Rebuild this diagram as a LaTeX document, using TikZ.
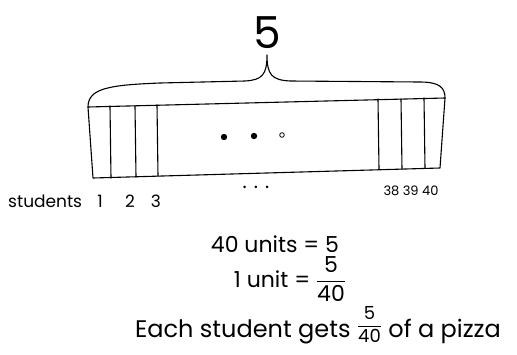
\documentclass[tikz,border=0pt]{standalone}
\usepackage{amsmath}
\usepackage{fontspec}
\setmainfont{Poppins}
\usetikzlibrary{positioning,calc}

\tikzset{
	hand/.style={line width=1.1pt,line cap=round,line join=round},
	lbl/.style={inner sep=0pt,font=\fontsize{17}{17}\selectfont},
	eqn/.style={inner sep=0pt,font=\fontsize{22}{22}\selectfont}
}
\newcommand{\sfr}[2]{$\dfrac{\textrm{#1}}{\textrm{#2}}$}
\newcommand{\smallfr}[2]{\raisebox{6pt}{\fontsize{18}{18}\selectfont\sfr{#1}{#2}}}

\begin{document}
\begin{tikzpicture}[x=1pt,y=-1pt]
				\useasboundingbox (0,0) rectangle (517,354);

				% corners of the bar
				\coordinate (tl) at (88,107);
				\coordinate (tr) at (445,98);
				\coordinate (br) at (440,168);
				\coordinate (bl) at (93,178);
				\draw[hand] (tl)--(tr)--(br)--(bl)--cycle;

				% unit strips
				\foreach \x/\yt/\yb in {110/106/178,135/106/177,157/105/176,378/99/169,401/99/169,424/98/168}
				{
					\draw[hand] (\x,\yt)--(\x+1,\yb);
				}

				% brace over the bar
				\coordinate (tip) at (267,55);
				\draw[hand] (tl) .. controls (88,88) and (110,85) .. (160,83)
					-- (245,81) .. controls (262,80) and (267,75) .. (tip)
					.. controls (267,75) and (272,80) .. (290,81)
					-- (420,82) .. controls (440,82) and (445,88) .. (tr);
				\node[inner sep=0pt,font=\fontsize{44}{44}\selectfont,above=6pt of tip] (total) {5};

				% dots in the bar
				\fill (224,137) circle [radius=3.2pt];
				\fill (254,136) circle [radius=3.2pt];
				\draw[thick] (282,135) circle [radius=2.3pt];

				% labels under the bar
				\node[lbl,anchor=base west] (stu) at (8,207) {students};
				\foreach \x/\xtext in {100/1,130/2,156/3}
				{
					\node[lbl,anchor=base] (s\xtext) at (\x,207) {\xtext};
				}
				\node[inner sep=0pt,font=\fontsize{20}{20}\selectfont,anchor=base] (gap) at (256,188) {. . .};
				\node[inner sep=0pt,font=\fontsize{13}{13}\selectfont,anchor=base] (last) at (411,195) {38 39 40};

				% working
				\node[eqn,anchor=base] (eq1) at (275,252) {40 units = 5};
				\node[eqn,anchor=base] (eq2) at (290,287) {1 unit = \sfr{5}{40}};
				\node[eqn,anchor=base,font=\fontsize{24}{24}\selectfont] (eq3) at (318,337) {Each student gets \smallfr{5}{40} of a pizza};
\end{tikzpicture}
\end{document}
